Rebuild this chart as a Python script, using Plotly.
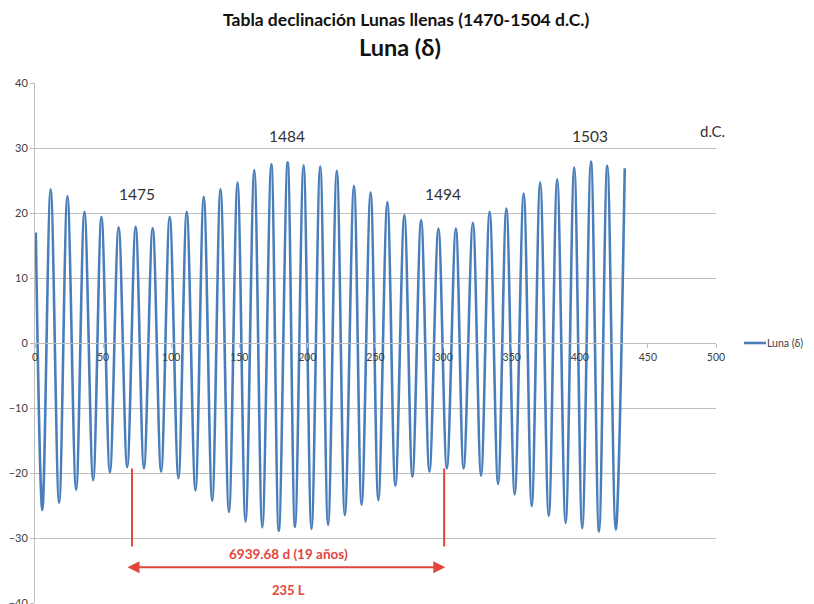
import plotly.graph_objects as go

# Extremes of the full-moon declination curve (lunation index, degrees)
peak_x = [0.6, 11.5, 23.8, 36.3, 48.8, 61.4, 73.9, 86.4, 98.9, 111.4, 123.9, 136.2, 148.7,
          161.0, 173.5, 185.5, 197.2, 209.4, 221.6, 234.2, 246.4, 258.7, 271.2, 283.5, 296.2,
          309.0, 321.5, 333.8, 346.1, 358.8, 370.9, 383.4, 395.9, 408.2, 420.2, 433.0]
peak_y = [17.0, 23.65, 22.6, 20.2, 19.4, 17.8, 17.9, 17.7, 19.4, 20.2, 22.5, 23.7, 24.7,
          26.6, 27.5, 27.8, 27.35, 27.15, 26.5, 24.2, 23.2, 21.7, 19.7, 18.9, 17.6,
          17.6, 18.5, 20.2, 20.7, 23.0, 24.7, 25.2, 27.0, 27.9, 27.25, 26.9]
trough_x = [5.4, 17.7, 30.2, 42.7, 55.0, 67.7, 80.0, 92.6, 105.3, 117.8, 130.1, 142.4, 154.6,
            166.9, 179.0, 190.9, 203.0, 215.2, 227.5, 239.8, 252.1, 264.6, 277.1, 289.6, 302.4,
            314.7, 327.5, 340.0, 352.2, 364.7, 377.2, 389.6, 401.8, 414.1, 426.4]
trough_y = [-25.7, -24.6, -22.6, -21.1, -19.9, -19.1, -19.3, -19.8, -20.8, -22.7, -24.3, -26.0, -27.5,
            -28.35, -28.9, -28.3, -28.6, -28.0, -26.5, -24.9, -24.2, -22.0, -20.6, -19.8, -19.3,
            -19.3, -20.4, -21.7, -23.3, -25.1, -26.6, -27.7, -28.5, -29.0, -28.7]

year_labels = ["1475", "1484", "1494", "1503"]
year_x = [74.7, 184.9, 299.5, 407.8]
year_y = [22.9, 31.9, 22.9, 31.9]

span_start, span_end = 71.2, 300.4
span_text = "6939.68 d (19 años)"
lunations_text = "235 L"
series_name = "Luna (δ)"

pts = sorted(zip(peak_x + trough_x, peak_y + trough_y))
xs = [p[0] for p in pts]
ys = [p[1] for p in pts]

FONT = "Lato"
RED = "#E2453C"
GRID = "#BFBFBF"
BLUE = "#4A7EBB"

fig = go.Figure()
fig.add_trace(go.Scatter(x=xs, y=ys, mode="lines", name=series_name, showlegend=False,
                         line=dict(color=BLUE, width=2.6, shape="spline", smoothing=1.0)))

for t, x, y in zip(year_labels, year_x, year_y):
    fig.add_annotation(x=x, y=y, text=t, showarrow=False,
                       font=dict(family=FONT, size=15.5, color="#333333"))
fig.add_annotation(x=497.6, y=32.6, text="d.C.", showarrow=False,
                   font=dict(family=FONT, size=15, color="#333333"))

# red markers of the 19-year cycle
for sx in (span_start, span_end):
    fig.add_shape(type="line", x0=sx, x1=sx, y0=-19.3, y1=-31.3,
                  line=dict(color=RED, width=2))
fig.add_annotation(x=span_end + 0.8, y=-34.5, ax=span_start - 4.4, ay=-34.5,
                   xref="x", yref="y", axref="x", ayref="y", text="",
                   showarrow=True, arrowhead=2, arrowside="end+start",
                   arrowsize=1.2, arrowwidth=2, arrowcolor=RED)
fig.add_annotation(x=(span_start + span_end) / 2, y=-32.5, text="<b>%s</b>" % span_text,
                   showarrow=False, font=dict(family=FONT, size=13.5, color=RED))
fig.add_annotation(x=(span_start + span_end) / 2, y=-38.0, text="<b>%s</b>" % lunations_text,
                   showarrow=False, font=dict(family=FONT, size=13, color=RED))

# titles
fig.add_annotation(xref="paper", yref="paper", x=0.545, y=1.123, yanchor="middle",
                   text="<b>Tabla declinación Lunas llenas (1470-1504 d.C.)</b>", borderpad=0,
                   showarrow=False, font=dict(family=FONT, size=17.5, color="#111111"))
fig.add_annotation(xref="paper", yref="paper", x=0.536, y=1.069, yanchor="middle",
                   text="<b>Luna (δ)</b>", showarrow=False,
                   font=dict(family=FONT, size=23.5, color="#111111"))

# legend drawn manually at the right
fig.add_shape(type="line", xref="paper", yref="paper", x0=1.041, x1=1.0735, y0=0.5, y1=0.5,
              line=dict(color=BLUE, width=2.6))
fig.add_annotation(xref="paper", yref="paper", x=1.0735, y=0.5, xanchor="left",
                   text=series_name, showarrow=False, borderpad=0,
                   font=dict(family=FONT, size=10.5, color="#404040"))

# the page body adds an 8px offset, so the margins are reduced by 8px on the left/top
fig.update_layout(
    width=814, height=604,
    margin=dict(l=27, r=106, t=75, b=9, autoexpand=False),
    paper_bgcolor="white", plot_bgcolor="white",
    font=dict(family=FONT, size=10, color="#404040"),
    showlegend=False,
    xaxis=dict(range=[0, 500], dtick=50, tick0=0, showgrid=False, zeroline=False,
               anchor="free", position=0.5, showline=True, linecolor=GRID, linewidth=1,
               ticks="outside", ticklen=4, tickcolor=GRID, automargin=False,
               tickfont=dict(family=FONT, size=10.5, color="#404040")),
    yaxis=dict(range=[-40, 40], dtick=10, showgrid=True, gridcolor=GRID, gridwidth=1,
               zeroline=False, showline=True, linecolor=GRID, linewidth=1,
               ticks="outside", ticklen=4, tickcolor=GRID, automargin=False,
               tickfont=dict(family=FONT, size=11, color="#404040")),
)

fig.write_html("out.html")
